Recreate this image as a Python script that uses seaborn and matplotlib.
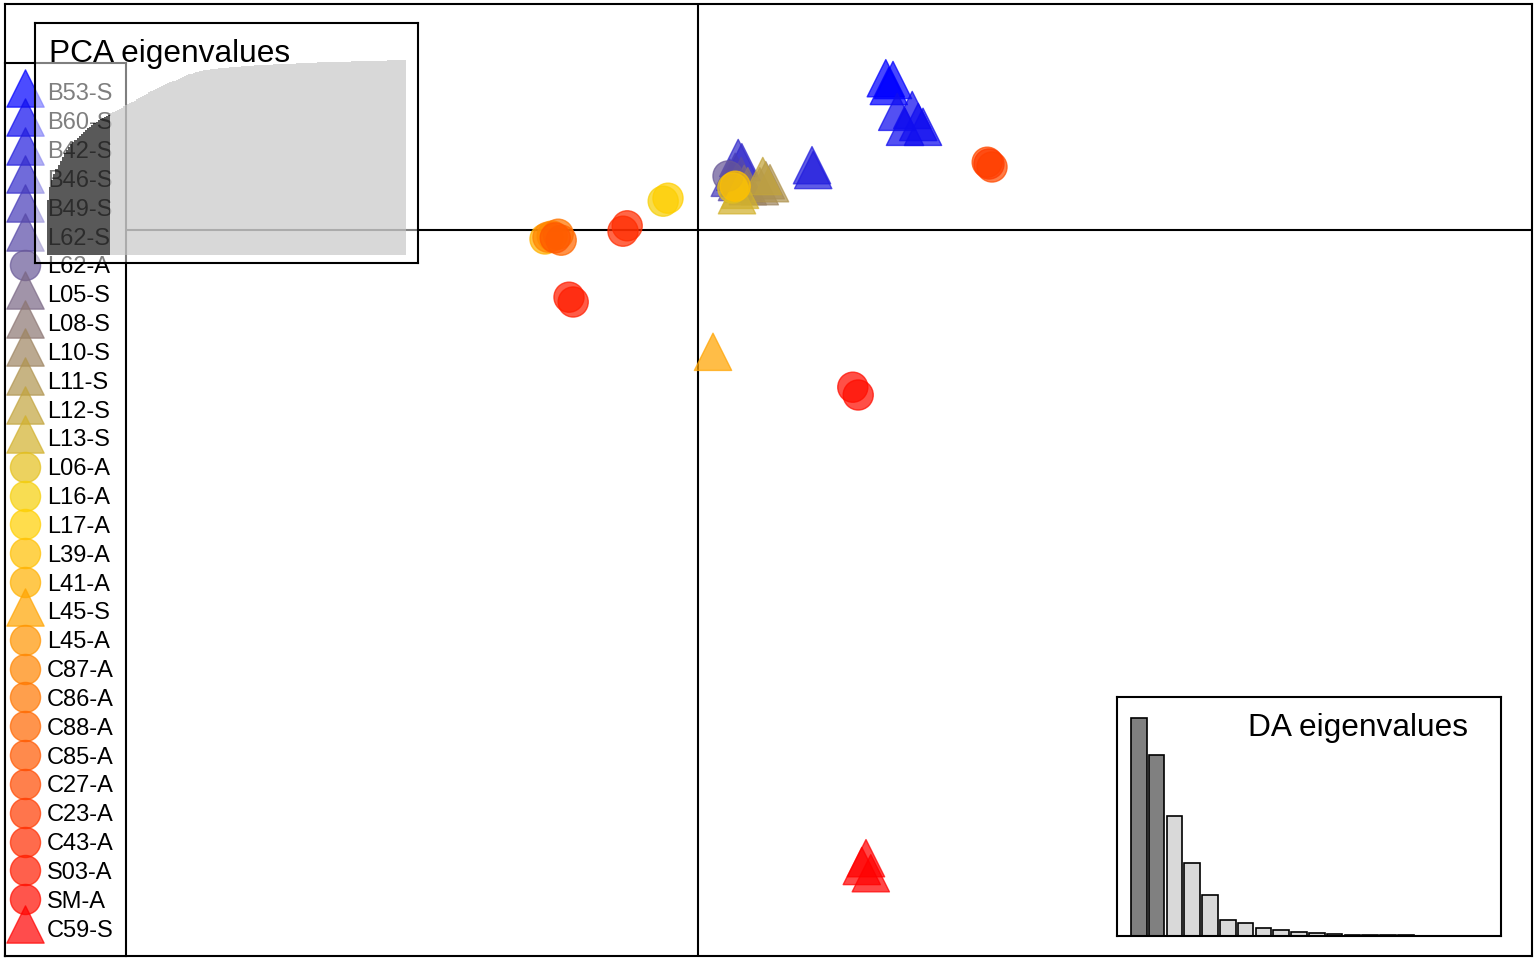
import matplotlib

matplotlib.use("Agg")
import matplotlib.pyplot as plt
import numpy as np
import pandas as pd
import seaborn as sns

W, H = 1536, 960

# group order as listed in the legend
GROUPS = [
    "B53-S", "B60-S", "B42-S", "B46-S", "B49-S", "L62-S", "L62-A", "L05-S",
    "L08-S", "L10-S", "L11-S", "L12-S", "L13-S", "L06-A", "L16-A", "L17-A",
    "L39-A", "L41-A", "L45-S", "L45-A", "C87-A", "C86-A", "C88-A", "C85-A",
    "C27-A", "C23-A", "C43-A", "S03-A", "SM-A", "C59-S",
]

# individual discriminant scores (LD1, LD2)
IND_GROUP = [
    "B53-S", "B53-S", "B53-S",
    "B60-S", "B60-S", "B60-S", "B60-S", "B60-S",
    "B42-S", "B42-S",
    "B46-S", "B46-S",
    "B49-S", "B49-S",
    "L62-S", "L62-S",
    "L62-A",
    "L05-S",
    "L08-S",
    "L10-S", "L10-S",
    "L11-S",
    "L12-S",
    "L13-S", "L13-S",
    "L06-A",
    "L16-A",
    "L17-A",
    "L39-A",
    "L41-A",
    "L45-S",
    "L45-A",
    "C87-A",
    "C86-A",
    "C88-A",
    "C85-A",
    "C27-A", "C27-A",
    "C23-A",
    "C43-A", "C43-A",
    "S03-A", "S03-A",
    "SM-A", "SM-A",
    "C59-S", "C59-S", "C59-S",
]
IND_LD1 = [
    3.13, 3.25, 3.18,
    3.32, 3.57, 3.45, 3.67, 3.75,
    1.90, 1.92,
    0.67, 0.73,
    0.62, 0.53,
    0.65, 0.72,
    0.50,
    0.77,
    0.83,
    1.13, 1.03,
    1.20,
    1.08,
    0.65, 0.70,
    0.58,
    -0.58,
    -0.50,
    0.62,
    -2.55,
    0.25,
    -2.43,
    -2.50,
    -2.33,
    -2.28,
    -2.38,
    4.82, 4.90,
    4.85,
    -1.18, -1.25,
    -2.15, -2.08,
    2.58, 2.67,
    2.80, 2.73, 2.88,
]
IND_LD2 = [
    2.53, 2.50, 2.40,
    1.97, 2.00, 1.72, 1.80, 1.72,
    1.08, 1.00,
    1.20, 1.13,
    0.97, 0.87,
    0.80, 0.90,
    0.90,
    0.77,
    0.73,
    0.83, 0.73,
    0.78,
    0.90,
    0.58, 0.67,
    0.70,
    0.48,
    0.53,
    0.73,
    -0.15,
    -2.03,
    -0.10,
    -0.12,
    -0.07,
    -0.17,
    -0.13,
    1.13, 1.05,
    1.10,
    0.07, -0.02,
    -1.12, -1.20,
    -2.62, -2.75,
    -10.47, -10.60, -10.72,
]

# PCA eigenvalues, % of variance per PC (first N_PCA retained)
PCA_VAR = [
    28.0, 7.0, 3.5, 3.0, 2.5, 2.3, 2.1, 2.0, 1.9, 1.7,
    1.4, 1.3, 1.2, 1.1, 1.0, 1.1, 1.0, 1.0, 0.95, 0.95,
    0.85, 0.8, 0.8, 0.8, 0.75, 0.65, 0.6, 0.6, 0.6, 0.55,
    0.62, 0.61, 0.6, 0.6, 0.6, 0.6, 0.6, 0.59, 0.59, 0.59,
    0.6, 0.6, 0.6, 0.6, 0.6, 0.6, 0.6, 0.6, 0.6, 0.6,
    0.52, 0.51, 0.5, 0.5, 0.5, 0.5, 0.5, 0.5, 0.49, 0.48,
    0.46, 0.46, 0.45, 0.45, 0.45, 0.45, 0.45, 0.45, 0.44, 0.44,
    0.26, 0.24, 0.22, 0.21, 0.2, 0.19, 0.18, 0.17, 0.17, 0.16,
    0.11, 0.11, 0.1, 0.1, 0.1, 0.1, 0.09, 0.09, 0.09, 0.09,
    0.09, 0.09, 0.09, 0.08, 0.08, 0.08, 0.08, 0.08, 0.08, 0.07,
    0.05, 0.05, 0.05, 0.05, 0.05, 0.05, 0.05, 0.05, 0.05, 0.05,
    0.05, 0.05, 0.05, 0.05, 0.05, 0.05, 0.05, 0.05, 0.05, 0.05,
    0.05, 0.05, 0.05, 0.05, 0.05, 0.05, 0.05, 0.05, 0.05, 0.05,
    0.03, 0.03, 0.03, 0.03, 0.03, 0.03, 0.03, 0.03, 0.03, 0.03,
    0.03, 0.03, 0.03, 0.03, 0.03, 0.03, 0.03, 0.03, 0.03, 0.03,
    0.03, 0.03, 0.03, 0.03, 0.03, 0.03, 0.03, 0.03, 0.03, 0.03,
    0.03, 0.03, 0.03, 0.03, 0.03, 0.03, 0.03, 0.03, 0.03, 0.03,
]
N_PCA = 30

# DA eigenvalues (first N_DA retained)
DA_EIG = [65.3, 54.3, 35.9, 21.9, 12.3, 4.8, 4.0, 2.4, 1.8, 1.3,
          0.8, 0.5, 0.3, 0.3, 0.2, 0.2, 0.15, 0.1, 0.1, 0.1]
N_DA = 2


def box(x0, y0, x1, y1):
    # pixel box (top-left origin) -> figure fraction rect
    return [x0 / W, 1 - y1 / H, (x1 - x0) / W, (y1 - y0) / H]


def frame(ax, lw=1.5):
    for s in ax.spines.values():
        s.set_visible(True)
        s.set_color("black")
        s.set_linewidth(lw)
    ax.set_xticks([])
    ax.set_yticks([])
    ax.set_xlabel("")
    ax.set_ylabel("")


def main():
    sns.set_theme(style="white")
    plt.rcParams["font.family"] = ["Liberation Sans", "DejaVu Sans"]

    pal = dict(zip(GROUPS, sns.blend_palette(["blue", "gold", "red"], len(GROUPS))))
    df = pd.DataFrame({"grp": IND_GROUP, "ld1": IND_LD1, "ld2": IND_LD2})
    df["shape"] = df["grp"].str[-1]

    fig = plt.figure(figsize=(W / 100, H / 100), dpi=100, facecolor="white")

    # main scatter
    ax = fig.add_axes(box(5, 4, 1532, 956))
    ax.axhline(0, color="black", lw=1.5, zorder=1)
    ax.axvline(0, color="black", lw=1.5, zorder=1)
    for shape, marker, size in [("S", "^", 720), ("A", "o", 470)]:
        sub = df[df["shape"] == shape]
        sns.scatterplot(data=sub, x="ld1", y="ld2", hue="grp", palette=pal,
                        marker=marker, s=size, alpha=0.72, edgecolor="face",
                        linewidth=1, legend=False, ax=ax, zorder=3)
    ax.set_xlim((5 - 698) / 60, (1532 - 698) / 60)
    ax.set_ylim((230 - 956) / 60, (230 - 4) / 60)
    frame(ax)

    # legend panel
    lax = fig.add_axes(box(5, 63, 126, 956), zorder=2)
    lax.set_facecolor("white")
    lax.set_xlim(5, 126)
    lax.set_ylim(956, 63)
    for i, g in enumerate(GROUPS):
        ty = 92 + 28.83 * i
        if g.endswith("S"):
            lax.scatter([25], [ty - 4], marker="^", s=720, color=pal[g], alpha=0.7,
                        edgecolor="face", linewidth=1, clip_on=False)
        else:
            lax.scatter([25], [ty], marker="o", s=470, color=pal[g], alpha=0.7,
                        edgecolor="face", linewidth=1, clip_on=False)
        lax.text(47, ty, g, fontsize=17, va="center_baseline", ha="left", color="black")
    frame(lax)

    # PCA eigenvalues inset
    pax = fig.add_axes(box(35, 23, 418, 263), zorder=5)
    pax.set_facecolor((1, 1, 1, 0.5))
    pca = pd.DataFrame({"pc": np.arange(1, len(PCA_VAR) + 1),
                        "cum": 100 * np.cumsum(PCA_VAR) / np.sum(PCA_VAR)})
    pca["kept"] = np.where(pca["pc"] <= N_PCA, "kept", "other")
    sns.barplot(data=pca, x="pc", y="cum", hue="kept",
                palette={"kept": "#000000", "other": "#c4c4c4"}, dodge=False,
                width=1.0, saturation=1, errorbar=None, linewidth=0, alpha=0.65,
                legend=False, ax=pax)
    n = len(PCA_VAR)
    step = 359 / n
    pax.set_xlim(-0.5 - 12 / step, n - 0.5 + 12 / step)
    pax.set_ylim(-8 / 1.95, 100 + 37 / 1.95)
    frame(pax)
    pax.text(49 / W, 1 - 62 / H, "PCA eigenvalues", transform=fig.transFigure,
             fontsize=22.8, va="baseline", ha="left", color="black", zorder=10)

    # DA eigenvalues inset
    dax = fig.add_axes(box(1117, 697, 1501, 936), zorder=5)
    dax.set_facecolor("white")
    da = pd.DataFrame({"ax": np.arange(1, len(DA_EIG) + 1), "eig": DA_EIG})
    da["kept"] = np.where(da["ax"] <= N_DA, "kept", "other")
    sns.barplot(data=da, x="ax", y="eig", hue="kept",
                palette={"kept": "#808080", "other": "#d9d9d9"}, dodge=False,
                width=0.88, saturation=1, errorbar=None, edgecolor="black",
                linewidth=1.2, legend=False, ax=dax)
    dax.set_xlim((1117 - 1138.85) / 17.8, (1501 - 1138.85) / 17.8)
    dax.set_ylim(0, (936 - 697) / 3.333)
    frame(dax)
    dax.text(1468 / W, 1 - 736 / H, "DA eigenvalues", transform=fig.transFigure,
             fontsize=22.8, va="baseline", ha="right", color="black", zorder=10)

    fig.savefig("out.png", dpi=100, facecolor="white")
    plt.close(fig)


if __name__ == "__main__":
    main()
